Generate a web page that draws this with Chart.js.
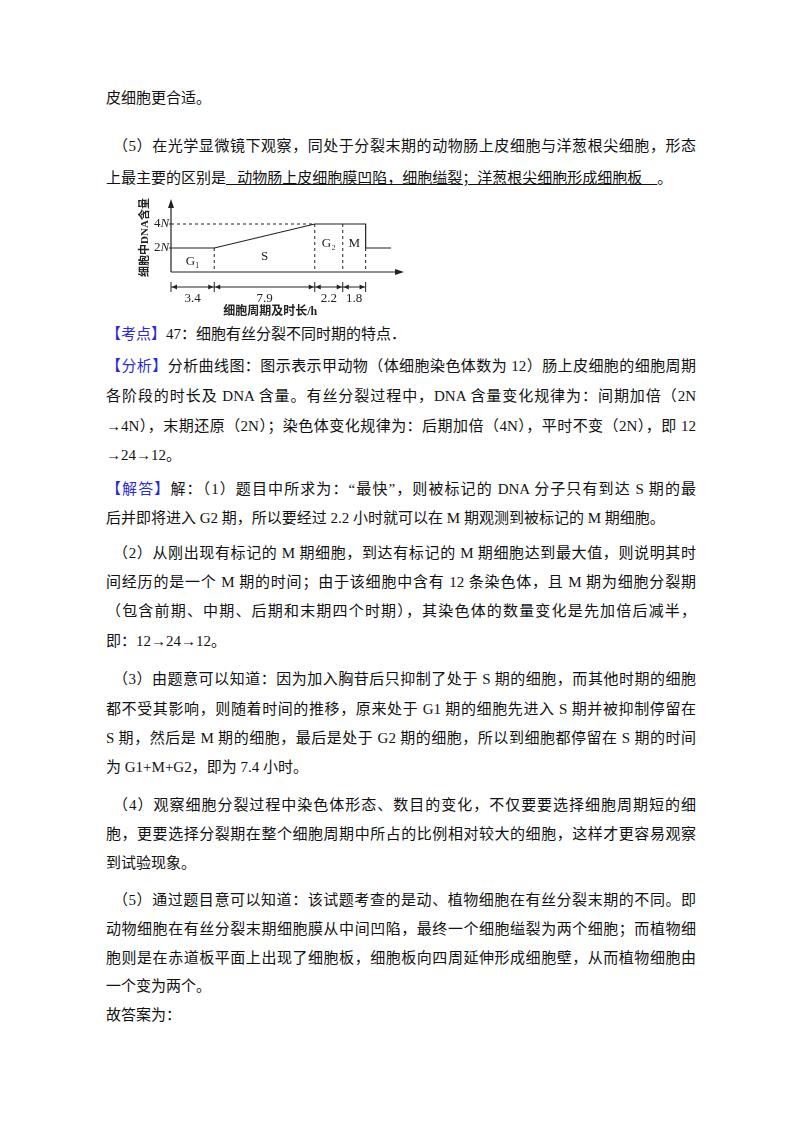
<!DOCTYPE html>
<html><head><meta charset="utf-8">
<script src="https://cdn.jsdelivr.net/npm/chart.js@4"></script>
<style>
body{margin:0;width:800px;height:1132px;background:#fff;position:relative;font-family:"Liberation Serif","Noto Sans CJK SC",serif;color:#111;}
.l{position:absolute;left:106px;font-size:15px;line-height:20px;white-space:nowrap;}
.j{width:590px;text-align:justify;text-align-last:justify;white-space:normal;}
.i{left:113px;}
.i.j{width:583px;}
.b{color:#2b2bd0;}
#cv{position:absolute;left:130px;top:190px;}
</style></head><body>
<div class="l" style="top:88px">皮细胞更合适。</div>
<div class="l i j" style="top:136px">（5）在光学显微镜下观察，同处于分裂末期的动物肠上皮细胞与洋葱根尖细胞，形态</div>
<div class="l" style="top:168px">上最主要的区别是<span style="text-decoration:underline">&nbsp;&nbsp;&nbsp;动物肠上皮细胞膜凹陷，细胞缢裂；洋葱根尖细胞形成细胞板&nbsp;&nbsp;&nbsp;&nbsp;</span>。</div>
<div style="position:absolute;left:130px;top:190px;width:290px;height:130px"><canvas id="cv" style="left:0;top:0" width="290" height="130"></canvas></div>
<div class="l" style="top:324px"><span class="b">【考点】</span>47：细胞有丝分裂不同时期的特点．</div>
<div class="l j" style="top:356px"><span class="b">【分析】</span>分析曲线图：图示表示甲动物（体细胞染色体数为 12）肠上皮细胞的细胞周期</div>
<div class="l j" style="top:386px">各阶段的时长及 DNA 含量。有丝分裂过程中，DNA 含量变化规律为：间期加倍（2N</div>
<div class="l j" style="top:416px">→4N），末期还原（2N）；染色体变化规律为：后期加倍（4N），平时不变（2N），即 12</div>
<div class="l" style="top:445px">→24→12。</div>
<div class="l j" style="top:479px"><span class="b">【解答】</span>解：（1）题目中所求为：“最快”，则被标记的 DNA 分子只有到达 S 期的最</div>
<div class="l" style="top:508px">后并即将进入 G2 期，所以要经过 2.2 小时就可以在 M 期观测到被标记的 M 期细胞。</div>
<div class="l i j" style="top:543px">（2）从刚出现有标记的 M 期细胞，到达有标记的 M 期细胞达到最大值，则说明其时</div>
<div class="l j" style="top:572px">间经历的是一个 M 期的时间；由于该细胞中含有 12 条染色体，且 M 期为细胞分裂期</div>
<div class="l j" style="top:601px">（包含前期、中期、后期和末期四个时期），其染色体的数量变化是先加倍后减半，</div>
<div class="l" style="top:631px">即：12→24→12。</div>
<div class="l i j" style="top:669px">（3）由题意可以知道：因为加入胸苷后只抑制了处于 S 期的细胞，而其他时期的细胞</div>
<div class="l j" style="top:699px">都不受其影响，则随着时间的推移，原来处于 G1 期的细胞先进入 S 期并被抑制停留在</div>
<div class="l j" style="top:728px">S 期，然后是 M 期的细胞，最后是处于 G2 期的细胞，所以到细胞都停留在 S 期的时间</div>
<div class="l" style="top:757px">为 G1+M+G2，即为 7.4 小时。</div>
<div class="l i j" style="top:795px">（4）观察细胞分裂过程中染色体形态、数目的变化，不仅要要选择细胞周期短的细</div>
<div class="l j" style="top:824px">胞，更要选择分裂期在整个细胞周期中所占的比例相对较大的细胞，这样才更容易观察</div>
<div class="l" style="top:853px">到试验现象。</div>
<div class="l i j" style="top:890px">（5）通过题目意可以知道：该试题考查的是动、植物细胞在有丝分裂末期的不同。即</div>
<div class="l j" style="top:919px">动物细胞在有丝分裂末期细胞膜从中间凹陷，最终一个细胞缢裂为两个细胞；而植物细</div>
<div class="l j" style="top:948px">胞则是在赤道板平面上出现了细胞板，细胞板向四周延伸形成细胞壁，从而植物细胞由</div>
<div class="l" style="top:976px">一个变为两个。</div>
<div class="l" style="top:1005px">故答案为：</div>
<script>
const phases = ["G₁","S","G₂","M"];
const durations = [3.4, 7.9, 2.2, 1.8];
const bounds = [0, 3.4, 11.3, 13.5, 15.3];
const dnaX = [0, 3.4, 11.3, 15.3, 15.3, 17.3];
const dnaY = [2, 2, 4, 4, 2, 2];
const yTicks = [{v:2,t:"2"},{v:4,t:"4"}];
const F = '"Liberation Serif","Noto Sans CJK SC",serif';
const deco = {id:'deco', afterDatasetsDraw(c){
  const g=c.ctx, x=c.scales.x, y=c.scales.y, a=c.chartArea;
  const X=v=>x.getPixelForValue(v), Y=v=>y.getPixelForValue(v);
  g.save(); g.strokeStyle='#222'; g.fillStyle='#222'; g.lineWidth=1.2;
  const x0=X(0), y0=Y(0);
  g.beginPath(); g.moveTo(x0,y0); g.lineTo(x0,a.top); g.moveTo(x0,y0); g.lineTo(a.right,y0); g.stroke();
  g.beginPath(); g.moveTo(x0,a.top-4); g.lineTo(x0-3,a.top+5); g.lineTo(x0+3,a.top+5); g.fill();
  g.beginPath(); g.moveTo(a.right+4,y0); g.lineTo(a.right-5,y0-3); g.lineTo(a.right-5,y0+3); g.fill();
  g.setLineDash([3,3]); g.lineWidth=1;
  g.beginPath(); g.moveTo(x0,Y(4)); g.lineTo(X(11.3),Y(4));
  g.moveTo(X(3.4),Y(2)); g.lineTo(X(3.4),y0);
  g.moveTo(X(11.3),Y(4)); g.lineTo(X(11.3),y0);
  g.moveTo(X(13.5),Y(4)); g.lineTo(X(13.5),y0);
  g.moveTo(X(15.3),Y(2)); g.lineTo(X(15.3),y0); g.stroke();
  g.setLineDash([]);
  g.font='13px '+F; g.textAlign='right'; g.textBaseline='middle';
  yTicks.forEach(t=>{ g.font='13px '+F; const w=g.measureText('N').width;
    g.fillText(t.t, x0-w-1, Y(t.v)); g.font='italic 13px '+F; g.textAlign='left'; g.fillText('N', x0-w-1, Y(t.v)); g.textAlign='right';
    g.beginPath(); g.moveTo(x0-2,Y(t.v)); g.lineTo(x0,Y(t.v)); g.stroke();});
  g.textAlign='center'; g.font='13px '+F;
  phases.forEach((p,i)=>{ const cx=(X(bounds[i])+X(bounds[i]+durations[i]))/2; g.fillText(p,cx,Y(i==1?1.3:(i>=2?2.4:0.9)));});
  const ry=y0+15;
  g.beginPath(); g.moveTo(x0,ry); g.lineTo(X(15.3),ry); g.stroke();
  bounds.forEach(b=>{g.beginPath(); g.moveTo(X(b),ry-5); g.lineTo(X(b),ry+5); g.stroke();});
  durations.forEach((d,i)=>{ const l=X(bounds[i]), r=X(bounds[i]+d);
    g.beginPath(); g.moveTo(l+1,ry); g.lineTo(l+6,ry-2.5); g.lineTo(l+6,ry+2.5); g.fill();
    g.beginPath(); g.moveTo(r-1,ry); g.lineTo(r-6,ry-2.5); g.lineTo(r-6,ry+2.5); g.fill();
    g.fillText(String(d),(l+r)/2,ry+12);});
  g.font='bold 12px '+F; g.fillText('细胞周期及时长/h',X(7.8),ry+25);
  g.translate(x0-26,(a.top+y0)/2); g.rotate(-Math.PI/2); g.font='bold 11px '+F; g.fillText('细胞中DNA含量',0,0);
  g.restore();
}};
new Chart(document.getElementById('cv'),{type:'line',
  data:{datasets:[{data:dnaX.map((v,i)=>({x:v,y:dnaY[i]})),borderColor:'#222',borderWidth:1.2,pointRadius:0,tension:0,fill:false}]},
  options:{responsive:false,animation:false,events:[],layout:{padding:{left:41,right:20,top:13,bottom:48}},
    plugins:{legend:{display:false},tooltip:{enabled:false}},
    scales:{x:{type:'linear',min:0,max:18,display:false},y:{min:0,max:5.75,display:false}}},
  plugins:[deco]});
</script>
</body></html>
